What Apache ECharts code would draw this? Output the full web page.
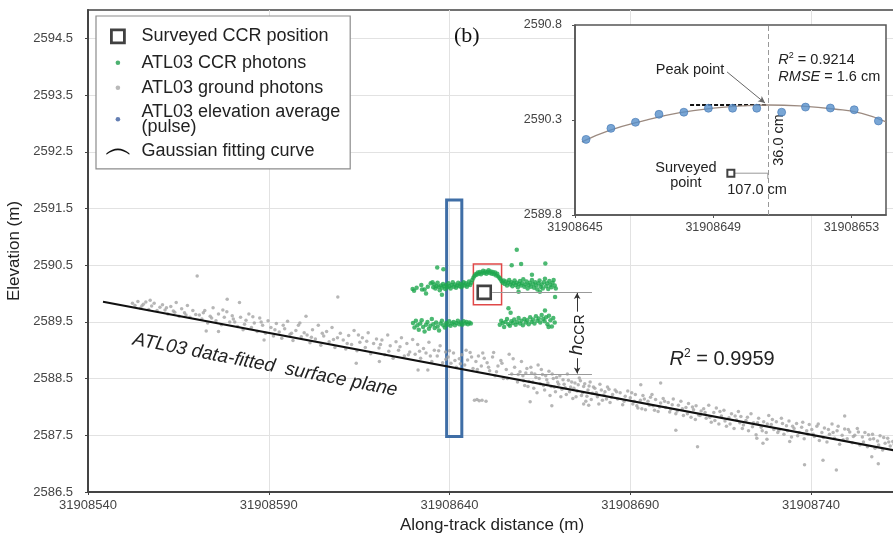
<!DOCTYPE html>
<html lang="en">
  <head>
    <meta charset="UTF-8" />
    <title>CCR elevation profile</title>
    <style>
      html, body { margin: 0; padding: 0; background: #fff; }
    </style>
  </head>
  <body>
    <div id="chart" style="width: 893px; height: 538px;"></div>
  </body>
  <script src="https://cdn.jsdelivr.net/npm/echarts@6/dist/echarts.min.js"></script>
  <script>
    // tick labels
    const xTicks = [31908540, 31908590, 31908640, 31908690, 31908740]
    const yTicks = [2586.5, 2587.5, 2588.5, 2589.5, 2590.5, 2591.5, 2592.5, 2593.5, 2594.5]
    const insetXTicks = [31908645, 31908649, 31908653]
    const insetYTicks = [2589.8, 2590.3, 2590.8]

    // surveyed corner cube reflector
    const surveyedCcr = [[31908649.6, 2590.02]]
    const surveyedInset = [[31908649.51, 2590.02]]
    const peakPoint = [31908650.58, 2590.379]

    // ATL03 data-fitted surface plane (end points of the fitted line)
    const surfacePlane = [[31908544.15, 2589.855], [31908763.5, 2587.23]]

    // ATL03 ground photons
    const groundPhotons = [
      [31908552.3, 2589.83], [31908553.0, 2589.79], [31908553.8, 2589.86], [31908554.5, 2589.74], [31908555.3, 2589.81],
      [31908556.0, 2589.85], [31908556.8, 2589.72], [31908557.6, 2589.78], [31908558.3, 2589.83], [31908559.1, 2589.70],
      [31908559.9, 2589.76], [31908560.6, 2589.80], [31908561.3, 2589.71], [31908562.1, 2589.64], [31908562.9, 2589.77],
      [31908563.6, 2589.69], [31908564.4, 2589.84], [31908565.2, 2589.60], [31908565.9, 2589.73], [31908566.7, 2589.66],
      [31908567.5, 2589.79], [31908568.2, 2589.58], [31908569.0, 2589.70], [31908569.8, 2589.63], [31908570.2, 2590.31],
      [31908570.8, 2589.62], [31908571.5, 2589.55], [31908572.3, 2589.70], [31908573.1, 2589.48], [31908573.8, 2589.60],
      [31908574.6, 2589.75], [31908575.4, 2589.52], [31908576.1, 2589.64], [31908576.9, 2589.45], [31908577.7, 2589.58],
      [31908578.4, 2589.68], [31908579.2, 2589.50], [31908579.9, 2589.61], [31908572.7, 2589.34], [31908576.1, 2589.33],
      [31908578.5, 2589.90], [31908580.6, 2589.50], [31908581.4, 2589.42], [31908581.9, 2589.84], [31908582.2, 2589.58],
      [31908582.9, 2589.36], [31908583.7, 2589.53], [31908584.5, 2589.64], [31908585.2, 2589.40], [31908586.0, 2589.48],
      [31908586.8, 2589.33], [31908587.5, 2589.57], [31908588.3, 2589.44], [31908589.1, 2589.30], [31908589.8, 2589.52],
      [31908588.7, 2589.18], [31908590.6, 2589.40], [31908591.3, 2589.25], [31908592.1, 2589.47], [31908592.9, 2589.32],
      [31908593.6, 2589.21], [31908594.4, 2589.38], [31908595.2, 2589.51], [31908595.9, 2589.28], [31908596.7, 2589.17],
      [31908597.5, 2589.35], [31908598.2, 2589.44], [31908599.0, 2589.24], [31908599.8, 2589.31], [31908600.3, 2589.60],
      [31908600.6, 2589.27], [31908601.4, 2589.13], [31908602.1, 2589.36], [31908602.9, 2589.20], [31908603.7, 2589.44],
      [31908604.4, 2589.09], [31908605.2, 2589.25], [31908606.0, 2589.33], [31908606.7, 2589.15], [31908607.5, 2589.40],
      [31908608.3, 2589.05], [31908609.0, 2589.22], [31908609.8, 2589.30], [31908609.1, 2589.94], [31908610.6, 2589.18],
      [31908611.3, 2589.02], [31908612.1, 2589.26], [31908612.9, 2589.10], [31908613.6, 2589.35], [31908614.2, 2588.77],
      [31908614.4, 2588.99], [31908615.2, 2589.14], [31908615.9, 2589.22], [31908616.7, 2589.05], [31908617.5, 2589.31],
      [31908618.2, 2588.94], [31908619.0, 2589.12], [31908619.8, 2589.20], [31908620.5, 2589.04], [31908620.6, 2588.80],
      [31908621.3, 2589.18], [31908622.1, 2588.92], [31908622.9, 2589.27], [31908623.6, 2589.08], [31908624.4, 2588.86],
      [31908625.2, 2589.15], [31908625.9, 2589.00], [31908626.7, 2589.22], [31908627.5, 2588.90], [31908628.2, 2589.12],
      [31908629.0, 2588.97], [31908629.8, 2589.19], [31908630.5, 2588.93], [31908631.2, 2589.10], [31908631.3, 2588.65],
      [31908632.0, 2588.86], [31908632.8, 2589.03], [31908633.5, 2588.95], [31908634.0, 2588.65], [31908634.3, 2589.14],
      [31908635.1, 2588.80], [31908635.8, 2589.00], [31908636.6, 2588.90], [31908637.4, 2589.08], [31908638.1, 2588.78],
      [31908638.9, 2588.97], [31908639.6, 2588.88], [31908640.4, 2588.77], [31908641.1, 2588.95], [31908641.9, 2588.70],
      [31908642.7, 2588.85], [31908643.4, 2588.92], [31908644.2, 2588.74], [31908645.0, 2588.83], [31908645.7, 2588.96],
      [31908646.5, 2588.68], [31908647.3, 2588.80], [31908648.0, 2588.90], [31908648.8, 2588.72], [31908649.6, 2588.86],
      [31908646.9, 2588.12], [31908647.6, 2588.13], [31908648.2, 2588.11], [31908649.0, 2588.12], [31908650.1, 2588.10],
      [31908650.4, 2588.78], [31908651.1, 2588.64], [31908651.9, 2588.88], [31908652.6, 2588.55], [31908653.4, 2588.72],
      [31908654.2, 2588.82], [31908654.9, 2588.50], [31908655.7, 2588.66], [31908656.5, 2588.93], [31908657.2, 2588.58],
      [31908658.0, 2588.70], [31908658.8, 2588.44], [31908659.5, 2588.62], [31908659.9, 2588.80], [31908660.3, 2588.55],
      [31908660.8, 2588.38], [31908661.4, 2588.68], [31908662.0, 2588.45], [31908662.3, 2588.09], [31908662.7, 2588.60],
      [31908663.3, 2588.33], [31908663.9, 2588.52], [31908664.5, 2588.74], [31908665.1, 2588.41], [31908665.7, 2588.57],
      [31908666.3, 2588.30], [31908666.9, 2588.48], [31908667.5, 2588.63], [31908668.1, 2588.36], [31908668.3, 2588.02],
      [31908668.7, 2588.50], [31908669.3, 2588.27], [31908669.9, 2588.44], [31908670.5, 2588.55], [31908671.1, 2588.31],
      [31908671.7, 2588.40], [31908672.3, 2588.22], [31908672.9, 2588.47], [31908673.5, 2588.35], [31908674.1, 2588.15],
      [31908674.7, 2588.42], [31908675.3, 2588.28], [31908675.9, 2588.51], [31908676.5, 2588.20], [31908677.1, 2588.36],
      [31908677.7, 2588.10], [31908678.3, 2588.30], [31908678.9, 2588.44], [31908679.5, 2588.24], [31908677.1, 2588.05],
      [31908678.5, 2588.03], [31908680.2, 2588.33], [31908680.9, 2588.18], [31908681.6, 2588.40], [31908682.3, 2588.12],
      [31908683.0, 2588.27], [31908683.7, 2588.35], [31908684.4, 2588.08], [31908685.1, 2588.22], [31908685.8, 2588.30],
      [31908686.5, 2588.14], [31908687.2, 2588.25], [31908687.9, 2588.04], [31908688.6, 2588.19], [31908689.3, 2588.28],
      [31908690.0, 2588.16], [31908690.7, 2588.05], [31908691.4, 2588.22], [31908692.1, 2587.98], [31908692.8, 2588.12],
      [31908692.9, 2588.39], [31908693.5, 2588.20], [31908694.2, 2587.95], [31908694.9, 2588.10], [31908695.6, 2588.17],
      [31908696.3, 2588.02], [31908697.0, 2588.13], [31908697.7, 2587.92], [31908698.4, 2588.07], [31908698.4, 2588.42],
      [31908699.1, 2588.15], [31908699.8, 2587.99], [31908700.5, 2588.08], [31908701.2, 2587.96], [31908701.9, 2588.14],
      [31908702.6, 2587.88], [31908702.6, 2587.59], [31908703.3, 2588.03], [31908704.0, 2588.10], [31908704.7, 2587.85],
      [31908705.4, 2587.99], [31908706.1, 2588.06], [31908706.8, 2587.82], [31908707.5, 2587.95], [31908708.2, 2588.02],
      [31908708.6, 2587.30], [31908708.9, 2587.86], [31908709.6, 2587.93], [31908710.3, 2587.97], [31908711.0, 2587.80],
      [31908711.7, 2588.03], [31908712.4, 2587.73], [31908713.1, 2587.90], [31908713.8, 2587.98], [31908714.5, 2587.70],
      [31908715.2, 2587.84], [31908715.9, 2587.94], [31908716.6, 2587.66], [31908717.3, 2587.81], [31908718.0, 2587.88],
      [31908718.7, 2587.62], [31908719.4, 2587.77], [31908719.9, 2587.92], [31908720.6, 2587.83], [31908721.3, 2587.68],
      [31908722.0, 2587.76], [31908722.7, 2587.58], [31908723.4, 2587.88], [31908724.1, 2587.72], [31908724.8, 2587.51],
      [31908725.5, 2587.80], [31908726.2, 2587.64], [31908726.9, 2587.74], [31908727.6, 2587.55], [31908728.3, 2587.85],
      [31908729.0, 2587.69], [31908729.7, 2587.60], [31908726.7, 2587.36], [31908725.0, 2587.45], [31908727.8, 2587.43],
      [31908730.4, 2587.74], [31908731.1, 2587.59], [31908731.8, 2587.80], [31908732.5, 2587.52], [31908733.2, 2587.67],
      [31908733.9, 2587.75], [31908734.6, 2587.47], [31908735.3, 2587.62], [31908736.0, 2587.71], [31908736.7, 2587.55],
      [31908737.4, 2587.64], [31908738.1, 2587.44], [31908738.8, 2587.58], [31908739.5, 2587.69], [31908734.1, 2587.39],
      [31908738.2, 2586.98], [31908740.2, 2587.60], [31908740.9, 2587.48], [31908741.6, 2587.66], [31908742.3, 2587.41],
      [31908743.0, 2587.55], [31908743.7, 2587.63], [31908744.4, 2587.38], [31908745.1, 2587.52], [31908745.8, 2587.70],
      [31908746.5, 2587.45], [31908747.2, 2587.58], [31908747.9, 2587.34], [31908748.6, 2587.50], [31908749.3, 2587.61],
      [31908743.3, 2587.06], [31908747.0, 2586.89], [31908749.3, 2587.84], [31908750.0, 2587.44], [31908750.7, 2587.56],
      [31908751.4, 2587.37], [31908752.1, 2587.50], [31908752.8, 2587.62], [31908753.5, 2587.33], [31908754.2, 2587.47],
      [31908754.9, 2587.55], [31908755.6, 2587.30], [31908756.3, 2587.43], [31908757.0, 2587.52], [31908757.7, 2587.27],
      [31908758.4, 2587.40], [31908759.1, 2587.49], [31908759.8, 2587.24], [31908760.5, 2587.36], [31908761.2, 2587.45],
      [31908761.9, 2587.31], [31908762.6, 2587.39], [31908756.8, 2587.12], [31908758.6, 2587.00],
      [31908554.9, 2589.78], [31908557.2, 2589.88], [31908561.7, 2589.75], [31908564.0, 2589.67], [31908567.1, 2589.62],
      [31908571.9, 2589.66], [31908574.2, 2589.57], [31908577.3, 2589.71], [31908580.2, 2589.55], [31908583.3, 2589.46],
      [31908585.6, 2589.59], [31908587.9, 2589.50], [31908591.7, 2589.36], [31908594.0, 2589.44], [31908596.3, 2589.30],
      [31908598.6, 2589.48], [31908601.8, 2589.23], [31908604.8, 2589.30], [31908607.9, 2589.19], [31908611.7, 2589.12],
      [31908614.8, 2589.27], [31908617.1, 2589.16], [31908620.9, 2589.10], [31908623.2, 2588.98], [31908626.3, 2589.06],
      [31908628.6, 2588.92], [31908631.7, 2588.98], [31908634.7, 2588.90], [31908637.0, 2588.99], [31908639.0, 2588.84],
      [31908640.0, 2588.99], [31908641.5, 2588.82], [31908643.0, 2588.76], [31908644.6, 2589.00], [31908646.1, 2588.88],
      [31908647.7, 2588.66], [31908649.2, 2588.95], [31908650.8, 2588.70], [31908652.2, 2588.96], [31908653.0, 2588.62],
      [31908654.5, 2588.77], [31908656.0, 2588.50], [31908657.6, 2588.85], [31908659.0, 2588.57], [31908660.5, 2588.46],
      [31908661.1, 2588.60], [31908661.7, 2588.36], [31908662.5, 2588.70], [31908663.0, 2588.44], [31908663.6, 2588.58],
      [31908664.2, 2588.25], [31908664.8, 2588.50], [31908665.4, 2588.66], [31908666.0, 2588.38], [31908666.6, 2588.55],
      [31908667.2, 2588.42], [31908667.8, 2588.20], [31908668.4, 2588.58], [31908669.0, 2588.35], [31908669.6, 2588.52],
      [31908670.2, 2588.40], [31908670.8, 2588.18], [31908671.4, 2588.48], [31908672.0, 2588.34], [31908672.6, 2588.58],
      [31908673.2, 2588.27], [31908673.8, 2588.44], [31908674.4, 2588.33], [31908675.0, 2588.18], [31908675.6, 2588.39],
      [31908676.2, 2588.46], [31908676.8, 2588.25], [31908677.4, 2588.41], [31908678.0, 2588.19], [31908678.6, 2588.37],
      [31908679.2, 2588.13], [31908679.8, 2588.35], [31908680.6, 2588.25], [31908681.3, 2588.05], [31908682.0, 2588.30],
      [31908682.7, 2588.21], [31908683.4, 2588.14], [31908684.1, 2588.31], [31908684.8, 2588.17], [31908686.2, 2588.27],
      [31908688.3, 2588.10], [31908690.4, 2588.25], [31908691.1, 2588.10], [31908691.8, 2588.02], [31908693.2, 2587.97],
      [31908693.9, 2588.14], [31908695.3, 2588.03], [31908696.0, 2588.22], [31908696.7, 2587.94], [31908698.1, 2588.00],
      [31908699.5, 2588.10], [31908700.9, 2587.91], [31908701.6, 2588.04], [31908703.0, 2587.93], [31908704.4, 2587.97],
      [31908705.8, 2587.88], [31908707.2, 2588.00], [31908708.0, 2587.78], [31908709.3, 2587.85], [31908710.7, 2587.90],
      [31908712.0, 2587.82], [31908713.4, 2587.76], [31908714.8, 2587.92], [31908716.2, 2587.75], [31908717.6, 2587.70],
      [31908719.0, 2587.84], [31908720.3, 2587.72], [31908721.0, 2587.62], [31908722.4, 2587.82], [31908723.8, 2587.65],
      [31908725.2, 2587.72], [31908726.5, 2587.58], [31908727.9, 2587.70], [31908729.3, 2587.78], [31908730.8, 2587.55],
      [31908732.1, 2587.71], [31908733.5, 2587.58], [31908734.9, 2587.66], [31908736.3, 2587.49], [31908737.7, 2587.73],
      [31908739.1, 2587.52], [31908740.6, 2587.52], [31908742.0, 2587.70], [31908743.4, 2587.46], [31908744.8, 2587.60],
      [31908746.1, 2587.55], [31908747.5, 2587.66], [31908748.9, 2587.42], [31908750.3, 2587.60], [31908751.7, 2587.48],
      [31908753.1, 2587.56], [31908754.5, 2587.38], [31908755.9, 2587.51], [31908757.3, 2587.44], [31908758.7, 2587.33],
      [31908760.1, 2587.46], [31908761.5, 2587.38], [31908763.0, 2587.34]
    ]

    // ATL03 CCR photons (upper and lower returns)
    const ccrPhotons = [
      [31908629.8, 2590.08], [31908630.9, 2590.10], [31908632.2, 2590.15], [31908633.1, 2590.07], [31908634.0, 2590.12],
      [31908634.8, 2590.18], [31908635.3, 2590.20], [31908636.6, 2590.46], [31908638.3, 2590.43], [31908630.2, 2590.05],
      [31908632.4, 2590.07], [31908633.5, 2590.00], [31908637.9, 2589.98],
      [31908635.5, 2590.11], [31908635.8, 2590.16], [31908636.1, 2590.09], [31908636.4, 2590.13], [31908636.7, 2590.19],
      [31908637.0, 2590.12], [31908637.3, 2590.06], [31908637.6, 2590.14], [31908637.9, 2590.10], [31908638.2, 2590.17],
      [31908638.5, 2590.13], [31908638.8, 2590.08], [31908639.1, 2590.15], [31908639.4, 2590.11], [31908639.7, 2590.18],
      [31908640.0, 2590.13], [31908640.3, 2590.09], [31908640.6, 2590.15], [31908640.9, 2590.20], [31908641.2, 2590.12],
      [31908641.5, 2590.16], [31908641.8, 2590.10], [31908642.1, 2590.14], [31908642.4, 2590.19], [31908642.7, 2590.13],
      [31908643.0, 2590.17], [31908643.3, 2590.11], [31908643.6, 2590.15], [31908643.9, 2590.20], [31908644.2, 2590.14],
      [31908644.5, 2590.18], [31908644.8, 2590.12], [31908645.1, 2590.16], [31908645.4, 2590.21], [31908645.7, 2590.15],
      [31908646.0, 2590.19], [31908646.3, 2590.24], [31908646.6, 2590.28], [31908646.9, 2590.31], [31908647.2, 2590.34],
      [31908647.5, 2590.33], [31908647.8, 2590.37], [31908648.1, 2590.35], [31908648.4, 2590.38], [31908648.7, 2590.34],
      [31908649.0, 2590.37], [31908649.3, 2590.40], [31908649.6, 2590.36], [31908649.9, 2590.39], [31908650.2, 2590.35],
      [31908650.5, 2590.38], [31908650.8, 2590.41], [31908651.1, 2590.36], [31908651.4, 2590.39], [31908651.7, 2590.35],
      [31908652.0, 2590.38], [31908652.3, 2590.34], [31908652.6, 2590.37], [31908652.9, 2590.32], [31908653.2, 2590.35],
      [31908653.5, 2590.30], [31908653.8, 2590.28], [31908654.1, 2590.25], [31908654.4, 2590.22], [31908654.7, 2590.19],
      [31908655.0, 2590.23], [31908655.3, 2590.17], [31908655.6, 2590.21], [31908655.9, 2590.14], [31908656.2, 2590.19],
      [31908656.5, 2590.24], [31908656.8, 2590.16], [31908657.1, 2590.20], [31908657.4, 2590.13], [31908657.7, 2590.18],
      [31908658.0, 2590.23], [31908658.3, 2590.15], [31908658.6, 2590.19], [31908658.9, 2590.11], [31908659.2, 2590.17],
      [31908659.5, 2590.22], [31908659.8, 2590.14], [31908660.1, 2590.18], [31908660.4, 2590.25], [31908660.7, 2590.12],
      [31908661.0, 2590.16], [31908661.3, 2590.21], [31908661.6, 2590.09], [31908661.9, 2590.15], [31908662.2, 2590.19],
      [31908662.5, 2590.12], [31908662.8, 2590.24], [31908663.1, 2590.17], [31908663.4, 2590.10], [31908663.7, 2590.20],
      [31908664.0, 2590.14], [31908664.3, 2590.07], [31908664.6, 2590.18], [31908664.9, 2590.23], [31908665.2, 2590.12],
      [31908665.5, 2590.16], [31908665.8, 2590.09], [31908666.1, 2590.20], [31908666.4, 2590.26], [31908666.7, 2590.13],
      [31908667.0, 2590.18], [31908667.3, 2590.08], [31908667.6, 2590.22], [31908667.9, 2590.15], [31908668.2, 2590.11],
      [31908668.5, 2590.19], [31908668.8, 2590.24], [31908669.1, 2590.14], [31908669.4, 2590.09],
      [31908658.6, 2590.77], [31908657.2, 2590.50], [31908659.8, 2590.52], [31908666.5, 2590.53], [31908662.8, 2590.33],
      [31908669.2, 2589.94], [31908659.1, 2590.03], [31908665.0, 2590.03], [31908656.3, 2589.74], [31908656.9, 2589.66],
      [31908666.4, 2589.70],
      [31908629.9, 2589.48], [31908630.3, 2589.40], [31908630.7, 2589.52], [31908631.1, 2589.44], [31908631.5, 2589.36],
      [31908631.9, 2589.47], [31908632.3, 2589.53], [31908632.7, 2589.41], [31908633.1, 2589.33], [31908633.5, 2589.45],
      [31908633.9, 2589.50], [31908634.3, 2589.38], [31908634.7, 2589.43], [31908635.1, 2589.55], [31908635.5, 2589.46],
      [31908635.9, 2589.39], [31908636.3, 2589.49], [31908636.7, 2589.42], [31908637.1, 2589.35], [31908637.5, 2589.47],
      [31908637.9, 2589.52], [31908638.3, 2589.44], [31908638.7, 2589.40], [31908639.1, 2589.48], [31908639.5, 2589.45],
      [31908639.9, 2589.51], [31908640.3, 2589.43], [31908640.7, 2589.47], [31908641.1, 2589.50], [31908641.5, 2589.44],
      [31908641.9, 2589.48], [31908642.3, 2589.52], [31908642.7, 2589.46], [31908643.1, 2589.49], [31908643.5, 2589.45],
      [31908643.9, 2589.51], [31908644.3, 2589.47], [31908644.7, 2589.50], [31908645.1, 2589.46], [31908645.5, 2589.49],
      [31908645.9, 2589.47],
      [31908653.9, 2589.45], [31908654.3, 2589.52], [31908654.7, 2589.48], [31908655.1, 2589.41], [31908655.5, 2589.50],
      [31908655.9, 2589.55], [31908656.3, 2589.46], [31908656.7, 2589.43], [31908657.1, 2589.51], [31908657.5, 2589.48],
      [31908657.9, 2589.54], [31908658.3, 2589.45], [31908658.7, 2589.50], [31908659.1, 2589.57], [31908659.5, 2589.47],
      [31908659.9, 2589.52], [31908660.3, 2589.44], [31908660.7, 2589.55], [31908661.1, 2589.49], [31908661.5, 2589.53],
      [31908661.9, 2589.46], [31908662.3, 2589.58], [31908662.7, 2589.50], [31908663.1, 2589.54], [31908663.5, 2589.47],
      [31908663.9, 2589.60], [31908664.3, 2589.52], [31908664.7, 2589.56], [31908665.1, 2589.49], [31908665.5, 2589.62],
      [31908665.9, 2589.55], [31908666.3, 2589.51], [31908666.7, 2589.58], [31908667.1, 2589.46], [31908667.5, 2589.61],
      [31908667.9, 2589.53], [31908668.3, 2589.42], [31908668.7, 2589.57], [31908669.1, 2589.49], [31908667.4, 2589.41]
    ]

    // inset: ATL03 elevation average per pulse and its Gaussian fit
    const pulseAverage = [
      [31908645.32, 2590.198], [31908646.04, 2590.256], [31908646.75, 2590.288], [31908647.43, 2590.330],
      [31908648.15, 2590.341], [31908648.86, 2590.362], [31908649.56, 2590.362], [31908650.26, 2590.362],
      [31908650.98, 2590.341], [31908651.67, 2590.368], [31908652.39, 2590.363], [31908653.08, 2590.354],
      [31908653.78, 2590.295]
    ]
    const gaussianCurve = [
      [31908645.2, 2590.185], [31908646.0, 2590.245], [31908647.0, 2590.297], [31908648.0, 2590.337],
      [31908649.0, 2590.362], [31908650.0, 2590.376], [31908650.6, 2590.379], [31908651.5, 2590.374],
      [31908652.5, 2590.358], [31908653.3, 2590.335], [31908654.0, 2590.29]
    ]

    const FONT = 'Liberation Sans, Arial, sans-serif'
    const hidden = { color: 'rgba(0,0,0,0)' }

    // text placed at a data position
    function note(coord, formatter, label) {
      return {
        coord,
        symbol: 'circle',
        symbolSize: 1,
        itemStyle: hidden,
        label: Object.assign({ show: true, position: 'inside', formatter, fontFamily: FONT, color: '#222' }, label)
      }
    }

    const chart = echarts.init(document.getElementById('chart'))
    const option = {
      animation: false,
      backgroundColor: '#fff',
      textStyle: { fontFamily: FONT },
      grid: [
        { left: 88, top: 10, right: -3, bottom: 46, show: true, borderColor: '#444', borderWidth: 1.5, outerBoundsMode: 'none' },
        { left: 575, top: 25, width: 311, height: 190, show: true, backgroundColor: '#fff', borderColor: '#555', borderWidth: 1.5, z: 3, outerBoundsMode: 'none' }
      ],
      legend: {
        left: 96,
        top: 16,
        orient: 'vertical',
        padding: [9, 10, 8, 7],
        itemGap: 5,
        itemWidth: 32,
        itemHeight: 20,
        backgroundColor: '#fff',
        borderColor: '#8c8c8c',
        borderWidth: 1.2,
        selectedMode: false,
        textStyle: { fontSize: 18, lineHeight: 15, color: '#222', fontFamily: FONT },
        formatter: name => name === 'ATL03 elevation average (pulse)' ? 'ATL03 elevation average\n(pulse)' : name,
        data: [
          { name: 'Surveyed CCR position', icon: 'path://M0,0M32,20M7,3.5H20V16.5H7Z', itemStyle: { color: '#fff', borderColor: '#111', borderWidth: 2.8 } },
          { name: 'ATL03 CCR photons', icon: 'path://M0,0M32,20M13.5,7.7A2.3,2.3,0,1,1,13.5,12.3A2.3,2.3,0,1,1,13.5,7.7Z', itemStyle: { color: '#1f9e4c', borderWidth: 0 } },
          { name: 'ATL03 ground photons', icon: 'path://M0,0M32,20M13.5,7.7A2.3,2.3,0,1,1,13.5,12.3A2.3,2.3,0,1,1,13.5,7.7Z', itemStyle: { color: '#a8a8a8', borderWidth: 0 } },
          { name: 'ATL03 elevation average (pulse)', icon: 'path://M0,0M32,20M13.5,7.7A2.3,2.3,0,1,1,13.5,12.3A2.3,2.3,0,1,1,13.5,7.7Z', itemStyle: { color: '#3d5fa0', borderWidth: 0 } },
          { name: 'Gaussian fitting curve', icon: 'path://M0,0M32,20M2,12.5Q13.5,3,25,12.5L25,14Q13.5,5,2,14Z', itemStyle: { color: '#111', borderWidth: 0 } }
        ]
      },
      xAxis: [
        {
          type: 'value',
          gridIndex: 0,
          min: 31908540,
          max: 31908763.5,
          name: 'Along-track distance (m)',
          nameLocation: 'middle',
          nameGap: 25,
          nameTextStyle: { fontSize: 17, color: '#222', fontFamily: FONT },
          axisLine: { show: true, lineStyle: { color: '#444', width: 2 } },
          axisTick: { show: true, length: 3, customValues: xTicks, lineStyle: { color: '#444' } },
          axisLabel: { customValues: xTicks, fontSize: 13, color: '#444', margin: 7, formatter: v => String(v) },
          splitLine: { show: true, lineStyle: { color: '#e2e2e2', width: 1 } }
        },
        {
          type: 'value',
          gridIndex: 1,
          min: 31908645,
          max: 31908654,
          z: 4,
          axisLine: { show: true, lineStyle: { color: '#555', width: 1.5 } },
          axisTick: { show: true, length: 3, customValues: insetXTicks, lineStyle: { color: '#555' } },
          axisLabel: { customValues: insetXTicks, fontSize: 12.5, color: '#444', margin: 6, formatter: v => String(v) },
          splitLine: { show: false }
        }
      ],
      yAxis: [
        {
          type: 'value',
          gridIndex: 0,
          min: 2586.5,
          max: 2595,
          name: 'Elevation (m)',
          nameLocation: 'middle',
          nameGap: 60,
          nameTextStyle: { fontSize: 17, color: '#222', fontFamily: FONT },
          axisLine: { show: true, lineStyle: { color: '#444', width: 2 } },
          axisTick: { show: true, length: 3, customValues: yTicks, lineStyle: { color: '#444' } },
          axisLabel: { customValues: yTicks, fontSize: 13, color: '#444', margin: 15, formatter: v => v.toFixed(1) },
          splitLine: { show: true, lineStyle: { color: '#e2e2e2', width: 1 } }
        },
        {
          type: 'value',
          gridIndex: 1,
          min: 2589.8,
          max: 2590.8,
          z: 4,
          axisLine: { show: true, lineStyle: { color: '#555', width: 1.5 } },
          axisTick: { show: true, length: 3, customValues: insetYTicks, lineStyle: { color: '#555' } },
          axisLabel: { customValues: insetYTicks, fontSize: 12.5, color: '#444', margin: 13, formatter: v => v.toFixed(1) },
          splitLine: { show: false }
        }
      ],
      series: [
        {
          name: 'ATL03 ground photons',
          type: 'scatter',
          xAxisIndex: 0,
          yAxisIndex: 0,
          z: 2,
          symbolSize: 3.5,
          itemStyle: { color: '#a4a4a4' },
          data: groundPhotons
        },
        {
          name: 'ATL03 CCR photons',
          type: 'scatter',
          xAxisIndex: 0,
          yAxisIndex: 0,
          z: 3,
          symbolSize: 4.5,
          itemStyle: { color: '#1fa84f' },
          data: ccrPhotons
        },
        {
          name: 'ATL03 data-fitted surface plane',
          type: 'line',
          xAxisIndex: 0,
          yAxisIndex: 0,
          z: 4,
          symbol: 'none',
          silent: true,
          lineStyle: { color: '#111', width: 2.2 },
          data: surfacePlane,
          markPoint: {
            silent: true,
            data: [
              note([31908589.0, 2588.74], 'ATL03 data-fitted  surface plane', { fontSize: 19, fontStyle: 'italic', rotate: -11 }),
              note([31908715.4, 2588.83], '{i|R}{s|2}{n| = 0.9959}', {
                fontSize: 20,
                lineHeight: 24,
                rich: {
                  i: { fontStyle: 'italic', fontSize: 20, fontFamily: FONT, color: '#222' },
                  s: { fontSize: 12, verticalAlign: 'top', fontFamily: FONT, color: '#222' },
                  n: { fontSize: 20, fontFamily: FONT, color: '#222' }
                }
              }),
              note([31908644.8, 2594.54], '(b)', { fontSize: 22, fontFamily: 'Liberation Serif, Times New Roman, serif', color: '#111' }),
              note([31908675.3, 2589.27], '{h|h}{s|CCR}', {
                rotate: 90,
                lineHeight: 20,
                rich: {
                  h: { fontStyle: 'italic', fontSize: 19, fontFamily: FONT, color: '#222' },
                  s: { fontSize: 14, verticalAlign: 'bottom', fontFamily: FONT, color: '#222' }
                }
              })
            ]
          }
        },
        {
          name: 'Surveyed CCR position',
          type: 'scatter',
          xAxisIndex: 0,
          yAxisIndex: 0,
          z: 6,
          symbol: 'rect',
          symbolSize: 13,
          itemStyle: { color: 'rgba(255,255,255,0)', borderColor: '#111', borderWidth: 2.6 },
          data: surveyedCcr,
          markArea: {
            silent: true,
            label: { show: false },
            data: [
              [{ coord: [31908639.2, 2591.65], itemStyle: { color: 'rgba(0,0,0,0)', borderColor: '#3f6ea6', borderWidth: 3 } }, { coord: [31908643.4, 2587.48] }],
              [{ coord: [31908646.6, 2590.52], itemStyle: { color: 'rgba(0,0,0,0)', borderColor: '#e04848', borderWidth: 1.5 } }, { coord: [31908654.4, 2589.80] }]
            ]
          },
          markLine: {
            silent: true,
            label: { show: false },
            data: [
              [{ coord: [31908651.8, 2590.02], symbol: 'none', lineStyle: { color: '#9a9a9a', width: 1.2, type: 'solid' } }, { coord: [31908679.4, 2590.02], symbol: 'none' }],
              [{ coord: [31908656.2, 2588.58], symbol: 'none', lineStyle: { color: '#9a9a9a', width: 1.2, type: 'solid' } }, { coord: [31908679.4, 2588.58], symbol: 'none' }],
              [{ coord: [31908675.3, 2589.68], symbol: 'none', lineStyle: { color: '#333', width: 1, type: 'solid' } }, { coord: [31908675.3, 2590.01], symbol: 'arrow', symbolSize: [5, 6] }],
              [{ coord: [31908675.3, 2588.86], symbol: 'none', lineStyle: { color: '#333', width: 1, type: 'solid' } }, { coord: [31908675.3, 2588.59], symbol: 'arrow', symbolSize: [5, 6] }]
            ]
          }
        },
        {
          name: 'Gaussian fitting curve',
          type: 'line',
          xAxisIndex: 1,
          yAxisIndex: 1,
          z: 5,
          symbol: 'none',
          smooth: true,
          silent: true,
          lineStyle: { color: '#9b8a80', width: 1.3 },
          data: gaussianCurve,
          markLine: {
            silent: true,
            label: { show: false },
            data: [
              [{ coord: [peakPoint[0], 2589.8], symbol: 'none', lineStyle: { color: '#999', width: 1, type: [5, 3] } }, { coord: [peakPoint[0], 2590.8], symbol: 'none' }],
              [{ coord: [31908648.33, peakPoint[1]], symbol: 'none', lineStyle: { color: '#111', width: 2, type: [4, 2] } }, { coord: peakPoint, symbol: 'none' }],
              [{ coord: [31908649.40, 2590.553], symbol: 'none', lineStyle: { color: '#666', width: 1, type: 'solid' } }, { coord: [31908650.50, 2590.389], symbol: 'arrow', symbolSize: [5, 7] }]
            ]
          },
          markPoint: {
            silent: true,
            data: [
              note([31908648.33, 2590.563], 'Peak point', { fontSize: 14.5 }),
              note([31908650.87, 2590.571], '{i|R}{s|2}{n| = 0.9214}\n{i|RMSE}{n| = 1.6 cm}', {
                position: 'right',
                distance: 0,
                lineHeight: 17,
                rich: {
                  i: { fontStyle: 'italic', fontSize: 14.5, fontFamily: FONT, color: '#222' },
                  s: { fontSize: 9, verticalAlign: 'top', fontFamily: FONT, color: '#222' },
                  n: { fontSize: 14.5, fontFamily: FONT, color: '#222' }
                }
              }),
              note([31908648.21, 2590.01], 'Surveyed\npoint', { fontSize: 14.5, lineHeight: 15 }),
              note([31908650.27, 2589.932], '107.0 cm', { fontSize: 14.5 }),
              note([31908650.90, 2590.195], '36.0 cm', { fontSize: 14.5, rotate: 90 })
            ]
          }
        },
        {
          name: 'ATL03 elevation average (pulse)',
          type: 'scatter',
          xAxisIndex: 1,
          yAxisIndex: 1,
          z: 6,
          symbolSize: 8,
          itemStyle: { color: '#5890cb', borderColor: '#4678b4', borderWidth: 0.8 },
          data: pulseAverage
        },
        {
          name: 'Surveyed point link',
          type: 'line',
          xAxisIndex: 1,
          yAxisIndex: 1,
          z: 5,
          symbol: 'none',
          silent: true,
          lineStyle: { color: '#999', width: 1 },
          data: [[31908649.63, surveyedInset[0][1]], [peakPoint[0], surveyedInset[0][1]], [peakPoint[0], 2589.99]]
        },
        {
          name: 'Surveyed point',
          type: 'scatter',
          xAxisIndex: 1,
          yAxisIndex: 1,
          z: 7,
          symbol: 'rect',
          symbolSize: 7,
          itemStyle: { color: '#fff', borderColor: '#111', borderWidth: 2 },
          data: surveyedInset
        }
      ]
    }
    chart.setOption(option)
  </script>
</html>
